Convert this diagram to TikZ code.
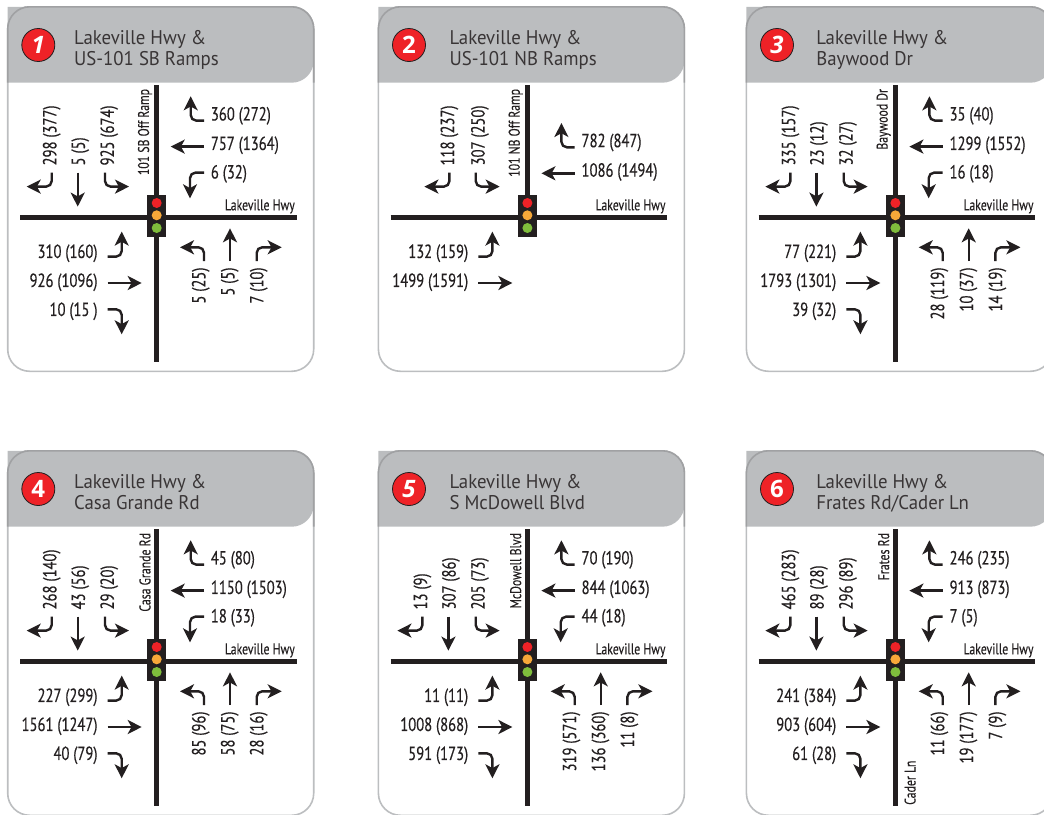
\documentclass[tikz,border=0pt]{standalone}
\usepackage{fontspec}
\setmainfont{PT Sans}
\newfontfamily\titlefont[FakeStretch=0.95]{PT Sans}
\newfontfamily\countfont[FakeStretch=0.77,FakeBold=0.35]{PT Sans}
\newfontfamily\streetfont[FakeStretch=0.76,FakeBold=0.2]{PT Sans}
\newfontfamily\badgefont{Open Sans}
\usetikzlibrary{arrows.meta}
\definecolor{ink}{HTML}{231F20}
\definecolor{cardline}{HTML}{BCBEC0}
\definecolor{headfill}{HTML}{BBBDBF}
\definecolor{lred}{HTML}{EE2227}
\definecolor{lorange}{HTML}{F7A839}
\definecolor{lgreen}{HTML}{7FBD3C}
\tikzset{
  mv/.style={draw=ink,line width=2.4pt,rounded corners=5.5pt,
    -{Stealth[length=14pt,width=14pt,inset=3.8pt]}},
  cnt/.style={inner sep=0pt,font=\countfont\fontsize{19}{21}\selectfont,text=ink},
  cntw/.style={cnt,anchor=west},
  cnte/.style={cnt,anchor=east},
  cntup/.style={cnt,rotate=90,anchor=west},
  cntdn/.style={cnt,rotate=90,anchor=east},
  street/.style={inner sep=0pt,font=\streetfont\fontsize{15.5}{17}\selectfont,text=ink},
  road/.style={draw=ink,line width=5pt},
  title/.style={inner sep=0pt,anchor=base west,text=ink!90,font=\titlefont\fontsize{19.8}{22}\selectfont},
  lamp/.style={circle,inner sep=0pt,minimum size=10pt}
}
% #1 badge text, #2 title x, #3,#4 title lines
\newcommand\card[4]{%
  \fill[white,draw=cardline,line width=1.6pt,rounded corners=22pt] (-149,-210.5) rectangle (157,154);
  \fill[headfill,rounded corners=22pt] (-149,-210.5) -- (157,-210.5) -- (157,-134.6) [sharp corners] -- (-149,-134.6) -- cycle;
  \draw[cardline!85!black,line width=1.6pt,rounded corners=22pt] (-149,-134.6) [sharp corners] -- (-149,-188) [rounded corners=22pt] -- (-149,-210.5) -- (157,-210.5) [sharp corners] -- (157,-188) -- (157,-134.6);
  \node[circle,fill=lred,draw=ink,line width=0.8pt,minimum size=33pt,inner sep=0pt,text=white,
    font=\badgefont\bfseries\fontsize{24}{24}\selectfont] (badge) at (-118.4,-172.3) {#1};
  \node[title] (titleA) at (#2,-173.3) {#3};
  \node[title] (titleB) at (#2,-152.3) {#4};
}
\newcommand\signal{%
  \node[fill=ink,inner sep=0pt,minimum width=19.4pt,minimum height=41.6pt] (signal) at (0,-1.5) {};
  \node[lamp,fill=lred] (lampR) at (0,-14.3) {};
  \node[lamp,fill=lorange] (lampO) at (0,-2) {};
  \node[lamp,fill=lgreen] (lampG) at (0,10.7) {};
}
\newcommand\roads[1][144.3]{%
  \coordinate (roadN) at (0,-132.3);
  \coordinate (roadS) at (0,#1);
  \coordinate (roadW) at (-136.7,0);
  \coordinate (roadE) at (140,0);
  \draw[road] (roadN) -- (roadS);
  \draw[road] (roadW) -- (roadE);
  \signal
  \node[street,anchor=base east] (hwy) at (138.3,-7) {Lakeville Hwy};
}
\newcommand\minor[1]{\node[street,rotate=90,anchor=east] (minor) at (-11.7,-128.5) {#1};}
% westbound (optional y shift)
\newcommand\wbU[2][0]{\draw[mv] (47.3,{-96.7+#1}) -- (34,{-96.7+#1}) -- (34,{-121+#1});
  \node[cntw] (wbU) at (54,{-101.5+#1}) {#2};}
\newcommand\wbT[2][0]{\draw[mv] (47.3,{-70.7+#1}) -- (14,{-70.7+#1});
  \node[cntw] (wbT) at (54,{-72+#1}) {#2};}
\newcommand\wbL[1]{\draw[mv] (47.3,-44.7) -- (33.3,-44.7) -- (33.3,-19);
  \node[cntw] (wbL) at (54,-43.5) {#1};}
% southbound
\newcommand\sbW[2][0]{\draw[mv] ({-105+#1},-44.7) -- ({-105+#1},-30.7) -- ({-130+#1},-30.7);
  \node[cntup] (sbW) at ({-105+#1},-51.7) {#2};}
\newcommand\sbT[1]{\draw[mv] (-79,-44.7) -- (-79,-10.7);
  \node[cntup] (sbT) at (-76.5,-51.7) {#1};}
\newcommand\sbE[1]{\draw[mv] (-51.7,-44.7) -- (-51.7,-30.7) -- (-27.7,-30.7);
  \node[cntup] (sbE) at (-47.5,-51.7) {#1};}
% eastbound
\newcommand\ebU[1]{\draw[mv] (-49,39.3) -- (-35,39.3) -- (-35,14.3);
  \node[cnte] (ebU) at (-59,36) {#1};}
\newcommand\ebT[1]{\draw[mv] (-49,65.7) -- (-15,65.7);
  \node[cnte] (ebT) at (-59,65) {#1};}
\newcommand\ebR[1]{\draw[mv] (-49,92) -- (-35,92) -- (-35,117);
  \node[cnte] (ebR) at (-59,94) {#1};}
% northbound
\newcommand\nbW[1]{\draw[mv] (47.3,43.7) -- (47.3,30) -- (23.3,30);
  \node[cntdn] (nbW) at (44,50) {#1};}
\newcommand\nbT[1]{\draw[mv] (73.3,43.7) -- (73.3,11);
  \node[cntdn] (nbT) at (73,50) {#1};}
\newcommand\nbE[1]{\draw[mv] (100,43.7) -- (100,30) -- (125,30);
  \node[cntdn] (nbE) at (102,50) {#1};}
\begin{document}
\begin{tikzpicture}[x=1pt,y=-1pt]
\useasboundingbox (0,0) rectangle (1044,814);
\clip (0,0) rectangle (1044,814);
% 1
\begin{scope}[shift={(156.7,217.3)},name prefix=p1-]
\card{\itshape 1}{-82.7}{Lakeville Hwy \&}{US-101 SB Ramps}
\roads \minor{101 SB Off Ramp}
\wbU{360 (272)} \wbT{757 (1364)} \wbL{6 (32)}
\sbW{298 (377)} \sbT{5 (5)} \sbE{925 (674)}
\ebU{310 (160)} \ebT{926 (1096)} \ebR{10 (15 )}
\nbW{5 (25)} \nbT{5 (5)} \nbE{7 (10)}
\end{scope}
% 2
\begin{scope}[shift={(527.4,217.3)},name prefix=p2-]
\card{2}{-78}{Lakeville Hwy \&}{US-101 NB Ramps}
\roads[0] \minor{101 NB Off Ramp}
\wbU[26.7]{782 (847)} \wbT[26.7]{1086 (1494)}
\sbW[27]{118 (237)} \sbE{307 (250)}
\ebU{132 (159)} \ebT{1499 (1591)}
\end{scope}
% 3
\begin{scope}[shift={(895.4,217.3)},name prefix=p3-]
\card{\itshape 3}{-79.3}{Lakeville Hwy \&}{Baywood Dr}
\roads \minor{Baywood Dr}
\wbU{35 (40)} \wbT{1299 (1552)} \wbL{16 (18)}
\sbW{335 (157)} \sbT{23 (12)} \sbE{32 (27)}
\ebU{77 (221)} \ebT{1793 (1301)} \ebR{39 (32)}
\nbW{28 (119)} \nbT{10 (37)} \nbE{14 (19)}
\end{scope}
% 4
\begin{scope}[shift={(156.7,661.3)},name prefix=p4-]
\card{4}{-82.7}{Lakeville Hwy \&}{Casa Grande Rd}
\roads \minor{Casa Grande Rd}
\wbU{45 (80)} \wbT{1150 (1503)} \wbL{18 (33)}
\sbW{268 (140)} \sbT{43 (56)} \sbE{29 (20)}
\ebU{227 (299)} \ebT{1561 (1247)} \ebR{40 (79)}
\nbW{85 (96)} \nbT{58 (75)} \nbE{28 (16)}
\end{scope}
% 5
\begin{scope}[shift={(527.4,661.3)},name prefix=p5-]
\card{\itshape 5}{-78}{Lakeville Hwy \&}{S McDowell Blvd}
\roads \minor{McDowell Blvd}
\wbU{70 (190)} \wbT{844 (1063)} \wbL{44 (18)}
\sbW{13 (9)} \sbT{307 (86)} \sbE{205 (73)}
\ebU{11 (11)} \ebT{1008 (868)} \ebR{591 (173)}
\nbW{319 (571)} \nbT{136 (360)} \nbE{11 (8)}
\end{scope}
% 6
\begin{scope}[shift={(895.4,661.3)},name prefix=p6-]
\card{6}{-79.3}{Lakeville Hwy \&}{Frates Rd/Cader Ln}
\roads \minor{Frates Rd}
\node[street,rotate=90,anchor=west] (cader) at (14.7,143.7) {Cader Ln};
\wbU{246 (235)} \wbT{913 (873)} \wbL{7 (5)}
\sbW{465 (283)} \sbT{89 (28)} \sbE{296 (89)}
\ebU{241 (384)} \ebT{903 (604)} \ebR{61 (28)}
\nbW{11 (66)} \nbT{19 (177)} \nbE{7 (9)}
\end{scope}
\end{tikzpicture}
\end{document}
